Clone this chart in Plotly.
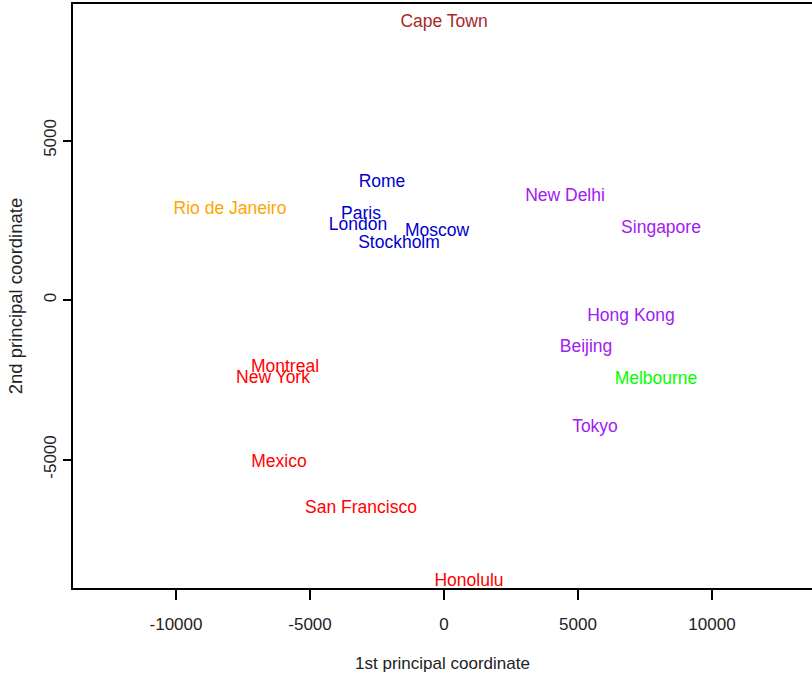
import plotly.graph_objects as go

cities = ["Cape Town", "Rome", "Paris", "London", "Moscow", "Stockholm",
          "Rio de Janeiro", "New Delhi", "Singapore", "Hong Kong", "Beijing",
          "Melbourne", "Tokyo", "Montreal", "New York", "Mexico",
          "San Francisco", "Honolulu"]
coord1 = [0, -2313, -3097, -3209, -261, -1679,
          -7985, 4515, 8097, 6978, 5299,
          7910, 5634, -5933, -6381, -6157,
          -3097, 933]
coord2 = [8680, 3665, 2665, 2320, 2130, 1755,
          2820, 3230, 2225, -535, -1505,
          -2510, -4015, -2135, -2475, -5110,
          -6555, -8840]
colors = ["#A52A2A", "#0000CD", "#0000CD", "#0000CD", "#0000CD", "#0000CD",
          "#FFA500", "#A020F0", "#A020F0", "#A020F0", "#A020F0",
          "#00FF00", "#A020F0", "#FF0000", "#FF0000", "#FF0000",
          "#FF0000", "#FF0000"]
xticks = [-10000, -5000, 0, 5000, 10000]
yticks = [-5000, 0, 5000]

font = "Liberation Sans, Arial"

fig = go.Figure(go.Scatter(
    x=coord1, y=coord2, text=cities, mode="text",
    textposition="middle center",
    textfont=dict(color=colors, size=17.5, family=font),
    hoverinfo="skip"))

fig.update_layout(
    width=812, height=677,
    margin=dict(l=73, r=0, t=4, b=89),
    plot_bgcolor="white", paper_bgcolor="white",
    showlegend=False,
    font=dict(family=font, size=17, color="#222222"),
    xaxis=dict(range=[-13843, 13731], tickvals=xticks, ticktext=[str(v) for v in xticks],
               showgrid=False, zeroline=False, showline=True, linecolor="black",
               linewidth=1.5, mirror=True, ticks="outside", ticklen=10,
               tickcolor="black", tickwidth=1.5, ticklabelstandoff=10,
               tickfont=dict(size=17),
               title=dict(text="1st principal coordinate", standoff=24,
                          font=dict(size=17))),
    yaxis=dict(range=[-9028, 9279], tickvals=yticks, ticktext=[str(v) for v in yticks],
               showgrid=False, zeroline=False, showline=True, linecolor="black",
               linewidth=1.5, ticks="outside", ticklen=8, tickangle=-90,
               tickcolor="black", tickwidth=1.5, tickfont=dict(size=17),
               title=dict(text="2nd principal coordinate", standoff=14,
                          font=dict(size=18.5))),
)

fig.write_html("out.html", config={"displayModeBar": False},
               post_script="document.body.style.margin='0';document.body.style.overflow='hidden';")
